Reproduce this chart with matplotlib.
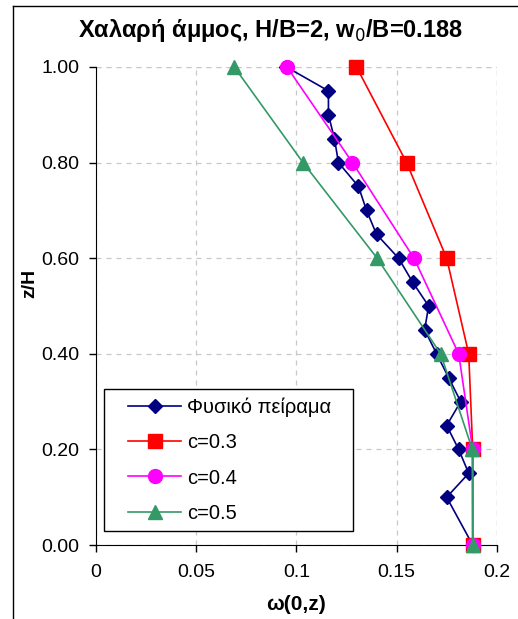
""" Loose sand profile: experiment vs. c-parameter curves """
import matplotlib
matplotlib.use('Agg')
import matplotlib.pyplot as plt
from matplotlib.lines import Line2D
from matplotlib.patches import Rectangle
from matplotlib.ticker import FormatStrFormatter

plt.rcParams['font.family'] = ['Liberation Sans', 'DejaVu Sans']

# experiment (physical test)
z_exp = [1.0, 0.95, 0.9, 0.85, 0.8, 0.75, 0.7, 0.65, 0.6, 0.55,
         0.5, 0.45, 0.4, 0.35, 0.3, 0.25, 0.2, 0.15, 0.1, 0.0]
w_exp = [0.095, 0.116, 0.116, 0.119, 0.121, 0.131, 0.135, 0.140, 0.151, 0.158,
         0.166, 0.164, 0.170, 0.176, 0.182, 0.175, 0.181, 0.186, 0.175, 0.188]

# model curves
z_mod = [1.0, 0.8, 0.6, 0.4, 0.2, 0.0]
w_c03 = [0.130, 0.155, 0.175, 0.186, 0.188, 0.188]
w_c04 = [0.0953, 0.128, 0.1587, 0.181, 0.188, 0.188]
w_c05 = [0.069, 0.1033, 0.1403, 0.172, 0.1878, 0.188]

labels = ['Φυσικό πείραμα', 'c=0.3', 'c=0.4', 'c=0.5']
xticks = [0, 0.05, 0.1, 0.15, 0.2]
xticklabels = ['0', '0.05', '0.1', '0.15', '0.2']
yticks = [0.0, 0.2, 0.4, 0.6, 0.8, 1.0]

fig = plt.figure(figsize=(5.18, 6.19), dpi=100)
ax = fig.add_axes([0.1853, 0.1195, 0.7737, 0.7723])

ax.plot(w_exp, z_exp, color='#000080', lw=1.2, marker='D', ms=7,
        label=labels[0], clip_on=False, zorder=3)
ax.plot(w_c03, z_mod, color='#FF0000', lw=1.2, marker='s', ms=10,
        label=labels[1], clip_on=False, zorder=4)
ax.plot(w_c04, z_mod, color='#FF00FF', lw=1.2, marker='o', ms=10,
        label=labels[2], clip_on=False, zorder=5)
ax.plot(w_c05, z_mod, color='#339966', lw=1.2, marker='^', ms=10,
        label=labels[3], clip_on=False, zorder=6)

ax.set_xlim(0, 0.2)
ax.set_ylim(0, 1.0)
ax.set_xticks(xticks)
ax.set_xticklabels(xticklabels)
ax.set_yticks(yticks)
ax.yaxis.set_major_formatter(FormatStrFormatter('%.2f'))
ax.tick_params(labelsize=14, direction='out', length=5, width=1, pad=7)
ax.tick_params(axis='x', pad=9)

ax.grid(True, color='#c8c8c8', linestyle=(0, (4, 4)), linewidth=0.9)
ax.set_axisbelow(True)
ax.spines['top'].set_visible(False)
ax.spines['right'].set_visible(False)
# dashed border lines on top/right like the gridlines
ax.axhline(1.0, color='#c8c8c8', linestyle=(0, (4, 4)), lw=0.9, zorder=0)
ax.axvline(0.2, color='#c8c8c8', linestyle=(0, (4, 4)), lw=0.9, zorder=0)

ax.set_xlabel('ω(0,z)', fontsize=15, fontweight='bold', labelpad=10)
ax.set_ylabel('z/H', fontsize=14, fontweight='bold')
ax.yaxis.set_label_coords(-0.145, 0.548)
fig.text(271 / 518, 1 - 30 / 619, 'Χαλαρή άμμος, H/B=2, w$_0$/B=0.188',
         fontsize=17, fontweight='bold', ha='center', va='center')

# legend: drawn without frame, box added separately
ax.legend(loc='upper left', bbox_to_anchor=(0.08, 0.308), frameon=False,
          fontsize=14.5, handlelength=2.65, labelspacing=0.8,
          handletextpad=0.3, borderaxespad=0, borderpad=0)
ax.add_patch(Rectangle((0.0207, 0.0293), 0.6214, 0.297, transform=ax.transAxes,
                       facecolor='white', edgecolor='black', lw=1, zorder=2.5))

# chart area border (left and top only visible)
fig.add_artist(Line2D([13 / 518, 13 / 518], [0, 1 - 6 / 619], color='black', lw=1))
fig.add_artist(Line2D([13 / 518, 1], [1 - 6 / 619, 1 - 6 / 619], color='black', lw=1))

fig.savefig('out.png', dpi=100)
